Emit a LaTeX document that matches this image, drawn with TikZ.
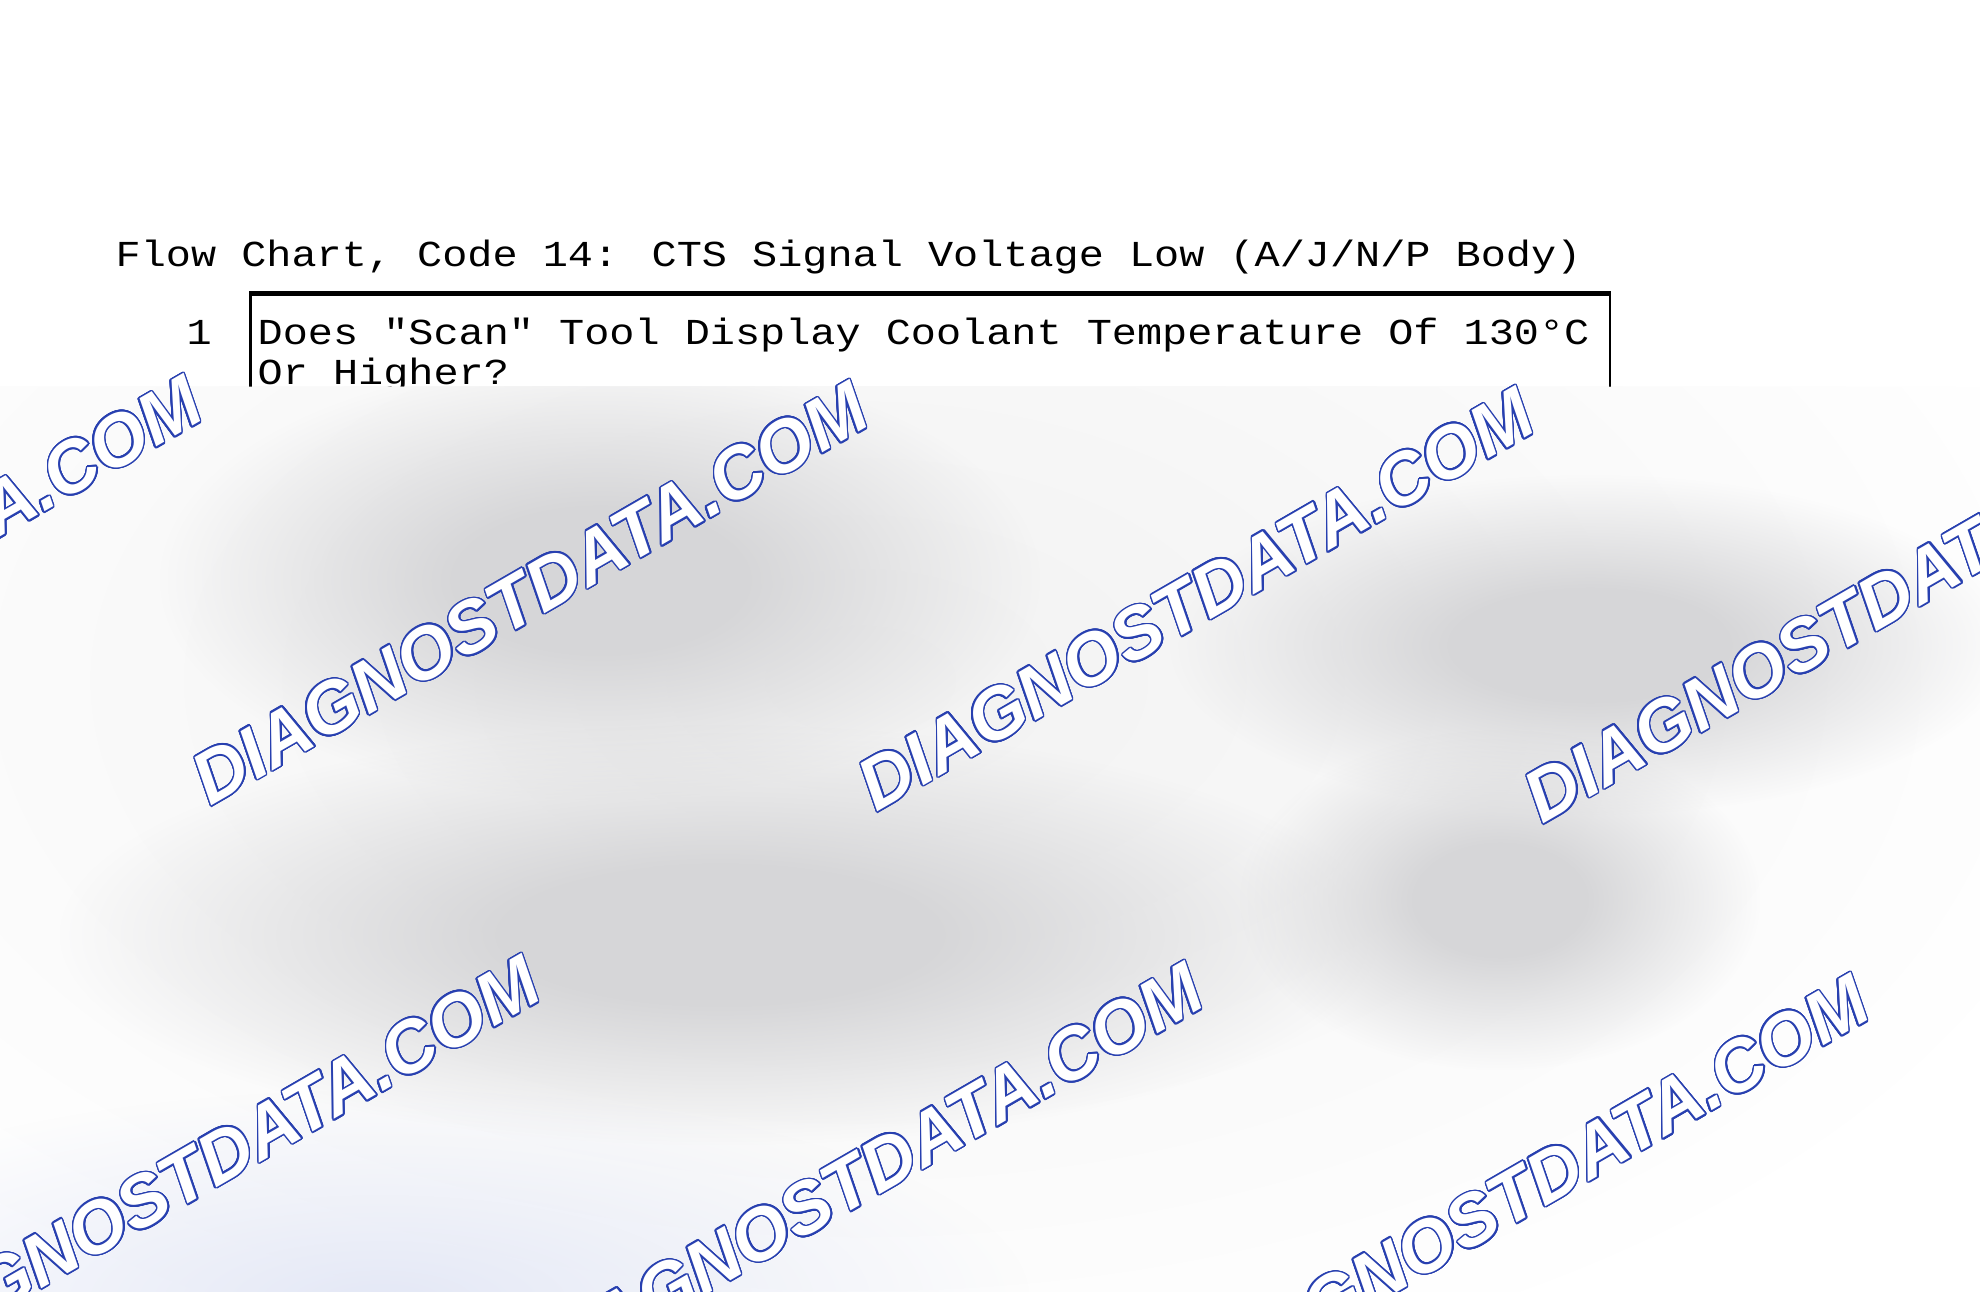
\documentclass[tikz,border=0pt]{standalone}
\usepackage{fontspec}
\usepackage{xcolor}
\usepackage[copies]{contour}
\usepackage{tikz}
\usetikzlibrary{positioning,fadings}
\newfontfamily\chartfont[FakeStretch=1.145]{Liberation Mono}
\newfontfamily\markfont{Liberation Sans}
\definecolor{markblue}{RGB}{40,64,176}
\definecolor{haze}{RGB}{214,214,216}
\definecolor{tint}{RGB}{228,232,246}
\contourlength{0.45pt}
\contournumber{24}
\tikzfading[name=softblob, inner color=transparent!0, outer color=transparent!100]
\pgfdeclareradialshading{flatblobshade}{\pgfpointorigin}{%
  color(0bp)=(pgftransparent!0); color(8bp)=(pgftransparent!0);
  color(25bp)=(pgftransparent!100); color(50bp)=(pgftransparent!100)}
\pgfdeclarefading{flatblob}{\pgfuseshading{flatblobshade}}
\tikzset{
  chart/.style={x=0.01cm, y=-0.01cm},
  chartlabel/.style={inner sep=0pt, anchor=base west,
    font=\chartfont\fontsize{10.4pt}{11.4pt}\selectfont},
  questionbox/.style={draw, line width=0.75pt, anchor=north west,
    inner sep=0pt, minimum width=13.59cm, minimum height=2cm},
  blur/.style={path fading=softblob},
  patch/.style={path fading=flatblob},
  watermark/.style={rotate=30, inner sep=0pt,
    font=\markfont\bfseries\itshape\fontsize{20.7pt}{24pt}\selectfont}
}
\newcommand{\sitemark}{\contour{markblue}{\textcolor{white}{DIAGNOSTDATA.COM}}}

\begin{document}
\begin{tikzpicture}[chart]
  \useasboundingbox (0,0) rectangle (1980,1292);
  % heading and first question
  \node[chartlabel] (title) at (115,267) {Flow Chart, Code 14: CTS Signal Voltage Low (A/J/N/P Body)};
  \node[questionbox] (q1) at (249,293) {};
  \draw[line width=1.2pt] (q1.north west) -- (q1.north east);
  \node[chartlabel] (q1num) at (186,345) {1};
  \node[chartlabel] (q1line1) at (257,345) {Does "Scan" Tool Display Coolant Temperature Of 130°C};
  \node[chartlabel] (q1line2) at (257,385) {Or Higher?};
  % blurred part
  \begin{scope}
    \clip (0,387) rectangle (1980,1292);
    \fill[white] (0,387) rectangle (1980,1292);
    \fill[gray!10, blur] (860,680) ellipse (1250 and 720);
    \fill[haze, patch] (600,580) ellipse (440 and 220);
    \fill[haze, patch] (1590,645) ellipse (420 and 170);
    \fill[haze, patch] (720,935) ellipse (660 and 210);
    \fill[haze, patch] (1500,900) ellipse (260 and 170);
    \fill[tint, blur] (380,1300) ellipse (650 and 210);
  \end{scope}
  % watermarks
  \begin{scope}
    \clip (0,0) rectangle (1980,1292);
    \foreach \x/\y [count=\i] in {-136/588, 530/594, 1196/600, 1862/612,
                                  202/1168, 865/1175, 1531/1187}
      \node[watermark] (mark\i) at (\x,\y) {\sitemark};
  \end{scope}
\end{tikzpicture}
\end{document}
